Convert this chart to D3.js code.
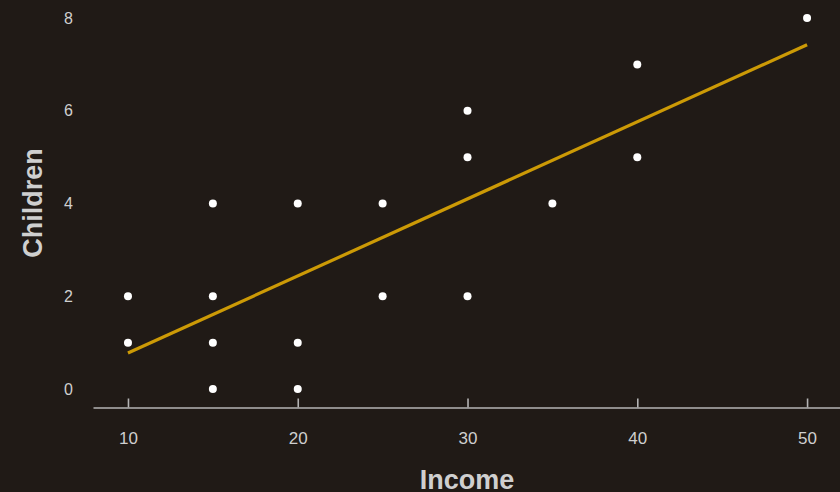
<!DOCTYPE html>
<html>
<head>
<meta charset="utf-8">
<script src="https://cdn.jsdelivr.net/npm/d3@7"></script>
<style>
  html, body { margin: 0; padding: 0; background: #201a16; }
  svg { display: block; font-family: "Liberation Sans", Arial, sans-serif; }
</style>
</head>
<body>
<svg id="chart" width="840" height="492"></svg>
<script>
// Observations: household income and number of children
const income   = [10, 10, 15, 15, 15, 15, 20, 20, 20, 25, 25, 30, 30, 30, 35, 40, 40, 50];
const children = [ 2,  1,  4,  2,  1,  0,  4,  1,  0,  4,  2,  6,  5,  2,  4,  7,  5,  8];

const xTicks = [10, 20, 30, 40, 50];
const yTicks = [0, 2, 4, 6, 8];

const W = 840, H = 492;
const bg = "#201a16";
const textColor = "#cfcfcf";
const axisColor = "#b4b4b4";
const fitColor = "#cc9a06";

const svg = d3.select("#chart");
svg.append("rect").attr("width", W).attr("height", H).attr("fill", bg);

const x = d3.scaleLinear().domain([7.94, 51.94]).range([93, 840]);
const y = d3.scaleLinear().domain([0, 8]).range([389, 18]);
const axisY = 407.5;

// x axis: baseline with short inward ticks
const gx = svg.append("g")
  .attr("transform", `translate(0,${axisY})`)
  .call(d3.axisBottom(x).tickValues(xTicks).tickFormat(d3.format("d"))
        .tickSizeInner(-9).tickSizeOuter(0).tickPadding(24));
gx.select(".domain").attr("stroke", axisColor).attr("stroke-width", 1.6);
gx.selectAll(".tick line").attr("stroke", axisColor).attr("stroke-width", 1.6);
gx.selectAll(".tick text").attr("fill", textColor).attr("font-size", 17)
  .attr("font-family", "Liberation Sans, Arial, sans-serif");

// y axis: labels only
const gy = svg.append("g")
  .attr("transform", "translate(93,0)")
  .call(d3.axisLeft(y).tickValues(yTicks).tickFormat(d3.format("d"))
        .tickSize(0).tickPadding(20));
gy.select(".domain").remove();
gy.selectAll(".tick text").attr("fill", textColor).attr("font-size", 16)
  .attr("font-family", "Liberation Sans, Arial, sans-serif");

// least-squares fit of children on income
const n = income.length;
const mx = d3.mean(income), my = d3.mean(children);
let sxy = 0, sxx = 0;
for (let i = 0; i < n; i++) {
  sxy += (income[i] - mx) * (children[i] - my);
  sxx += (income[i] - mx) ** 2;
}
const slope = sxy / sxx, intercept = my - slope * mx;
const [x0, x1] = d3.extent(income);
const fitPts = [[x0, intercept + slope * x0], [x1, intercept + slope * x1]];

svg.append("path")
  .datum(fitPts)
  .attr("d", d3.line().x(d => x(d[0])).y(d => y(d[1])))
  .attr("fill", "none")
  .attr("stroke", fitColor)
  .attr("stroke-width", 3.2);

// points
svg.append("g").selectAll("circle")
  .data(income.map((v, i) => ({ income: v, children: children[i] })))
  .join("circle")
  .attr("cx", d => x(d.income))
  .attr("cy", d => y(d.children))
  .attr("r", 4)
  .attr("fill", "#ffffff");

// axis titles
svg.append("text")
  .attr("x", 467).attr("y", 489)
  .attr("text-anchor", "middle")
  .attr("font-size", 27).attr("font-weight", "bold")
  .attr("fill", textColor)
  .text("Income");

svg.append("text")
  .attr("transform", "translate(42,203) rotate(-90)")
  .attr("text-anchor", "middle")
  .attr("font-size", 27).attr("font-weight", "bold")
  .attr("fill", textColor)
  .text("Children");
</script>
</body>
</html>
